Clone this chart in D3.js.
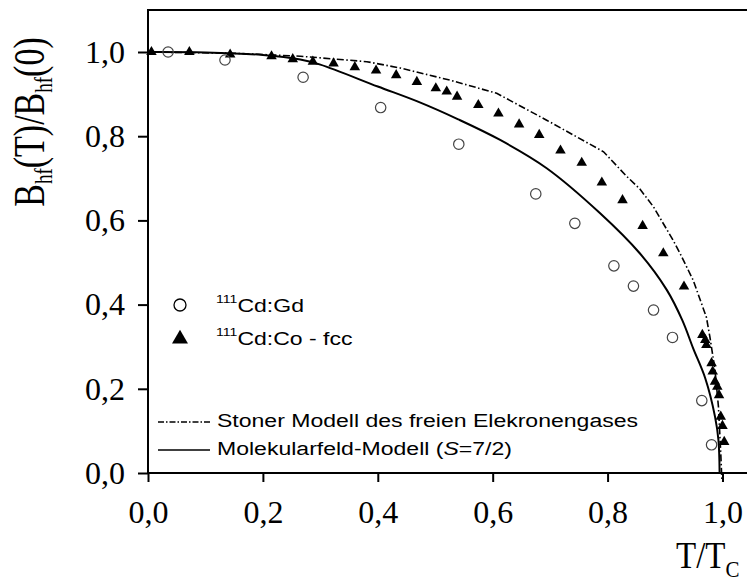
<!DOCTYPE html>
<html>
<head>
<meta charset="utf-8">
<script src="https://cdn.jsdelivr.net/npm/d3@7"></script>
<style>
body { margin: 0; background: #fff; }
</style>
</head>
<body>
<script>
// Gd data (open circles)
var gdT = [0.035, 0.134, 0.27, 0.405, 0.541, 0.675, 0.743, 0.811, 0.845, 0.880, 0.913, 0.964, 0.981];
var gdB = [1.0, 0.981, 0.94, 0.868, 0.781, 0.663, 0.593, 0.492, 0.444, 0.387, 0.322, 0.172, 0.067];

// Co fcc data (filled triangles)
var coT = [0.006, 0.072, 0.143, 0.215, 0.252, 0.287, 0.323, 0.360, 0.397, 0.432, 0.468, 0.501, 0.520, 0.538,
           0.575, 0.610, 0.646, 0.681, 0.718, 0.755, 0.790, 0.826, 0.861, 0.897, 0.933,
           0.965, 0.970, 0.972, 0.981, 0.983, 0.987, 0.991, 0.994, 0.997, 1.000, 1.003];
var coB = [1.0, 1.0, 0.994, 0.990, 0.983, 0.977, 0.973, 0.964, 0.956, 0.945, 0.929, 0.914, 0.906, 0.894,
           0.874, 0.854, 0.828, 0.803, 0.766, 0.737, 0.690, 0.648, 0.587, 0.522, 0.443,
           0.328, 0.316, 0.304, 0.261, 0.241, 0.217, 0.205, 0.185, 0.134, 0.112, 0.074];

// Molekularfeld-Modell (S=7/2)
var mfT = [0, 0.10, 0.20, 0.265, 0.30, 0.40, 0.47, 0.54, 0.613, 0.694, 0.787, 0.856, 0.903, 0.930, 0.949, 0.970, 0.987, 0.993, 0.995];
var mfB = [1.0, 0.999, 0.993, 0.982, 0.970, 0.918, 0.882, 0.840, 0.791, 0.724, 0.617, 0.522, 0.435, 0.363, 0.296, 0.225, 0.134, 0.078, 0.0];

// Stoner Modell
var stT = [0, 0.15, 0.265, 0.381, 0.439, 0.526, 0.607, 0.694, 0.793, 0.833, 0.856, 0.880, 0.914, 0.926, 0.949, 0.972, 0.978, 0.987, 0.993, 0.997, 0.999];
var stB = [1.0, 0.997, 0.990, 0.977, 0.962, 0.933, 0.902, 0.838, 0.763, 0.705, 0.675, 0.632, 0.553, 0.522, 0.458, 0.370, 0.324, 0.245, 0.157, 0.047, -0.02];

var xTicks = [0, 0.2, 0.4, 0.6, 0.8, 1.0];
var yTicks = [0, 0.2, 0.4, 0.6, 0.8, 1.0];

var w = 747, h = 581;
var svg = d3.select("body").append("svg")
    .attr("width", w)
    .attr("height", h);

var x = d3.scaleLinear().domain([0, 1.05]).range([148, 751.2]);
var y = d3.scaleLinear().domain([0, 1.1]).range([473, 9.9]);

var fmt = function(d) { return d3.format(".1f")(d).replace(".", ","); };

// axes
var xAxis = svg.append("g")
    .attr("transform", "translate(0," + y(0) + ")")
    .call(d3.axisBottom(x).tickValues(xTicks).tickFormat(fmt).tickSize(9).tickPadding(18).tickSizeOuter(0));
var yAxis = svg.append("g")
    .attr("transform", "translate(" + x(0) + ",0)")
    .call(d3.axisLeft(y).tickValues(yTicks).tickFormat(fmt).tickSize(10).tickPadding(13).tickSizeOuter(0));

[xAxis, yAxis].forEach(function(a) {
  a.select(".domain").remove();
  a.selectAll("line").attr("stroke", "#000").attr("stroke-width", 2);
  a.selectAll("text")
    .attr("fill", "#000")
    .style("font-family", "'Liberation Serif', 'Times New Roman', serif")
    .style("font-size", "32px");
});

// frame lines
svg.append("line").attr("x1", x(0)).attr("x2", x(0)).attr("y1", y(1.1)).attr("y2", y(0))
  .attr("stroke", "#000").attr("stroke-width", 2);
svg.append("line").attr("x1", x(0) - 1).attr("x2", w).attr("y1", y(1.1)).attr("y2", y(1.1))
  .attr("stroke", "#000").attr("stroke-width", 2);
svg.append("line").attr("x1", x(0)).attr("x2", w).attr("y1", y(0)).attr("y2", y(0))
  .attr("stroke", "#000").attr("stroke-width", 2);

// curves
var line = d3.line().x(function(d) { return x(d[0]); }).y(function(d) { return y(d[1]); });

svg.append("path")
  .datum(d3.zip(mfT, mfB))
  .attr("fill", "none").attr("stroke", "#000").attr("stroke-width", 2)
  .attr("d", line.curve(d3.curveCatmullRom.alpha(0.5)));

svg.append("path")
  .datum(d3.zip(stT, stB))
  .attr("fill", "none").attr("stroke", "#000").attr("stroke-width", 1.6)
  .attr("stroke-dasharray", "7,2.5,1.5,2.5")
  .attr("d", line.curve(d3.curveLinear));

// markers
var tri = d3.symbol().type(d3.symbolTriangle);

svg.selectAll("path.co")
  .data(d3.zip(coT, coB))
  .enter().append("path")
  .attr("class", "co")
  .attr("transform", function(d) { return "translate(" + x(d[0]) + "," + y(d[1]) + ")"; })
  .attr("d", tri.size(48))
  .attr("fill", "#000");

svg.selectAll("circle.gd")
  .data(d3.zip(gdT, gdB))
  .enter().append("circle")
  .attr("class", "gd")
  .attr("cx", function(d) { return x(d[0]); })
  .attr("cy", function(d) { return y(d[1]); })
  .attr("r", 5.2)
  .attr("fill", "none")
  .attr("stroke", "#444")
  .attr("stroke-width", 1.2);

// axis titles
var serif = "'Liberation Serif', 'Times New Roman', serif";
var yt = svg.append("text")
  .attr("transform", "translate(44,122) rotate(-90) scale(1,1.28)")
  .attr("text-anchor", "middle")
  .style("font-family", serif).style("font-size", "34px").attr("fill", "#000");
yt.append("tspan").text("B");
yt.append("tspan").attr("dy", 6).style("font-size", "19px").text("hf");
yt.append("tspan").attr("dy", -6).text("(T)/B");
yt.append("tspan").attr("dy", 6).style("font-size", "19px").text("hf");
yt.append("tspan").attr("dy", -6).text("(0)");

var xt = svg.append("text")
  .attr("transform", "translate(676,568) scale(1,1.12)")
  .style("font-family", serif).style("font-size", "33px").attr("fill", "#000");
xt.append("tspan").text("T/T");
xt.append("tspan").attr("dy", 8).style("font-size", "21px").text("C");

// legend
var sans = "'Liberation Sans', Arial, sans-serif";
var legend = svg.append("g");

legend.append("circle").attr("cx", 180).attr("cy", 305).attr("r", 6)
  .attr("fill", "none").attr("stroke", "#000").attr("stroke-width", 1.3);
legend.append("path").attr("transform", "translate(180,339)")
  .attr("d", d3.symbol().type(d3.symbolTriangle).size(110)()).attr("fill", "#000");

function legText(x0, y0, parts) {
  var t = legend.append("text")
    .attr("transform", "translate(" + x0 + "," + y0 + ") scale(1.28,1)")
    .style("font-family", sans).style("font-size", "18px").attr("fill", "#000");
  parts.forEach(function(p) {
    var s = t.append("tspan").text(p.t);
    if (p.sup) s.attr("dy", -9).style("font-size", "11px");
    if (p.down) s.attr("dy", 9);
    if (p.it) s.style("font-style", "italic");
  });
}

legText(216, 312, [{t: "111", sup: true}, {t: "Cd:Gd", down: true}]);
legText(216, 345, [{t: "111", sup: true}, {t: "Cd:Co - fcc", down: true}]);

legend.append("line").attr("x1", 158).attr("x2", 210).attr("y1", 422).attr("y2", 422)
  .attr("stroke", "#000").attr("stroke-width", 1.4).attr("stroke-dasharray", "6,2,1.5,2");
legend.append("line").attr("x1", 158).attr("x2", 210).attr("y1", 450).attr("y2", 450)
  .attr("stroke", "#000").attr("stroke-width", 1.6);

legText(217, 427, [{t: "Stoner Modell des freien Elekronengases"}]);
legText(217, 455, [{t: "Molekularfeld-Modell ("}, {t: "S", it: true}, {t: "=7/2)"}]);
</script>
</body>
</html>
